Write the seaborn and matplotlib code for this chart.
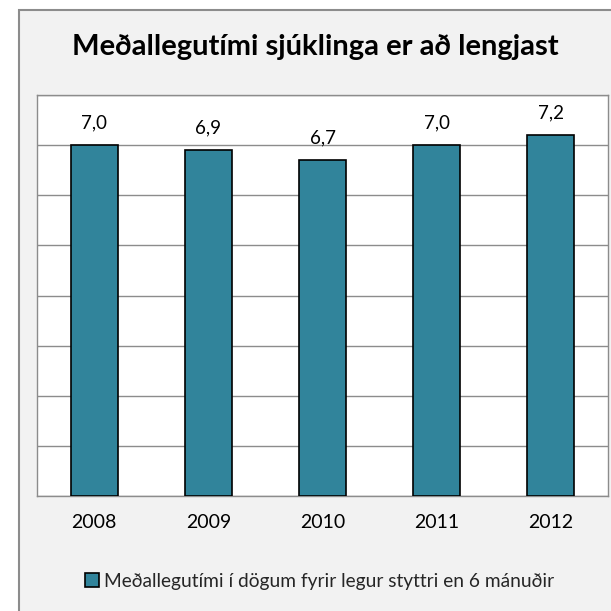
import matplotlib
matplotlib.use("Agg")
import matplotlib.pyplot as plt
import seaborn as sns
import pandas as pd
from matplotlib.patches import Rectangle, Patch

# gögn
ar = ["2008", "2009", "2010", "2011", "2012"]
legutimi = [7.0, 6.9, 6.7, 7.0, 7.2]
titill = "Meðallegutími sjúklinga er að lengjast"
skyring = "Meðallegutími í dögum fyrir legur styttri en 6 mánuðir"

df = pd.DataFrame({"ar": ar, "dagar": legutimi})

sns.set_theme(style="white")
plt.rcParams['font.family'] = ['Lato', 'DejaVu Sans']

W = 611
fig = plt.figure(figsize=(6.11, 6.11), dpi=100)
fig.patch.set_facecolor("white")

# grár rammi utan um allt
fig.add_artist(Rectangle((19 / W, -0.01), 1.0, 1 - 10 / W + 0.01,
                         transform=fig.transFigure, facecolor="#f2f2f2",
                         edgecolor="#8c8c8c", linewidth=1.5, zorder=0))

ax = fig.add_axes([37 / W, 115 / W, 571 / W, 401 / W])
ax.set_facecolor("white")

sns.barplot(data=df, x="ar", y="dagar", color="#31849b", width=0.41,
            edgecolor="black", linewidth=1.2, saturation=1, ax=ax, zorder=3)

ax.set_ylim(0, 8)
ax.set_yticks(range(0, 9))
ax.set_yticklabels([])
ax.yaxis.grid(True, color="#8c8c8c", linewidth=1)
ax.set_axisbelow(True)
ax.tick_params(axis="x", length=0, labelsize=14, pad=13, colors="black")
ax.tick_params(axis="y", length=0)
ax.set_xlabel("")
ax.set_ylabel("")
for s in ax.spines.values():
    s.set_color("#8c8c8c")
    s.set_linewidth(1)

ax.bar_label(ax.containers[0],
             labels=[f"{v:.1f}".replace(".", ",") for v in legutimi],
             padding=10, fontsize=13.5, color="black")

fig.text(0.516, 1 - 47 / W, titill, ha="center", va="center",
         fontsize=21, fontweight="bold", color="black")

fig.legend(handles=[Patch(facecolor="#31849b", edgecolor="black", linewidth=1.2)],
           labels=[skyring], loc="center", bbox_to_anchor=(0.523, 1 - 581 / W),
           frameon=False, fontsize=13.8, handlelength=0.75, handleheight=0.75,
           handletextpad=0.25)

fig.savefig("out.png", dpi=100)
